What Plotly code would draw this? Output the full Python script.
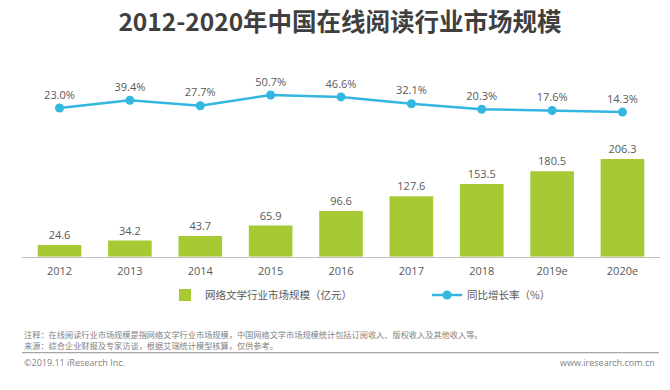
import plotly.graph_objects as go

years = ["2012", "2013", "2014", "2015", "2016", "2017", "2018", "2019e", "2020e"]
market_size = [24.6, 34.2, 43.7, 65.9, 96.6, 127.6, 153.5, 180.5, 206.3]
growth_rate = [23.0, 39.4, 27.7, 50.7, 46.6, 32.1, 20.3, 17.6, 14.3]

title_text = "2012-2020年中国在线阅读行业市场规模"
bar_name = "网络文学行业市场规模（亿元）"
line_name = "同比增长率（%）"
note1 = "注释：在线阅读行业市场规模是指网络文学行业市场规模，中国网络文学市场规模统计包括订阅收入、版权收入及其他收入等。"
note2 = "来源：综合企业财报及专家访谈，根据艾瑞统计模型核算，仅供参考。"
copyright_text = "©2019.11 iResearch Inc."
site_text = "www.iresearch.com.cn"

GREEN = "#A6C934"
BLUE = "#33B6E0"
GRAY = "#595959"
FONT = "Open Sans, Noto Sans CJK SC, sans-serif"
CJK = "Noto Sans CJK SC, sans-serif"

W, H = 670, 390
ML, MR = 22, 10
PW = W - ML - MR

def px_x(x):
    return (x - ML) / PW

def px_y(y):
    return (H - y) / H

fig = go.Figure()
fig.add_trace(go.Bar(
    x=years, y=market_size, name=bar_name,
    marker=dict(color=GREEN, line=dict(width=0)),
    texttemplate="%{y:.1f}", textposition="outside",
    textfont=dict(size=11, color=GRAY, family=FONT),
    cliponaxis=False, yaxis="y", legend="legend",
))
fig.add_trace(go.Scatter(
    x=years, y=growth_rate, name=line_name, mode="lines+markers+text",
    line=dict(color=BLUE, width=2.5),
    marker=dict(color=BLUE, size=9),
    text=[f"{v:.1f}%" for v in growth_rate], textposition="top center",
    textfont=dict(size=11, color=GRAY, family=FONT),
    cliponaxis=False, yaxis="y2", legend="legend2",
))

dom = [px_y(256.7), px_y(60)]
leg_common = dict(orientation="h", yanchor="middle", y=px_y(295),
                  font=dict(size=10.5, color=GRAY, family=CJK),
                  bgcolor="rgba(0,0,0,0)", xanchor="left")
fig.update_layout(
    width=W, height=H,
    margin=dict(l=ML, r=MR, t=0, b=0, autoexpand=False),
    paper_bgcolor="white", plot_bgcolor="white",
    font=dict(family=FONT, color=GRAY),
    bargap=0.38,
    showlegend=True,
    title=dict(text=title_text, x=px_x(340), xref="paper", xanchor="center",
               y=1 - 22 / H, yref="container", yanchor="middle",
               font=dict(size=24.5, color="#3F3F3F", family=CJK, weight="bold")),
    xaxis=dict(showgrid=False, showline=True, linecolor="#BFBFBF", linewidth=1,
               ticks="", tickfont=dict(size=11, color=GRAY, family=FONT),
               ticklabelstandoff=4, zeroline=False, fixedrange=True),
    yaxis=dict(domain=dom, range=[0, 196.7 / 0.473], visible=False,
               showgrid=False, zeroline=False),
    yaxis2=dict(domain=dom, overlaying="y", range=[23 - 148.7 / 0.47, 23 - 148.7 / 0.47 + 196.7 / 0.47],
                visible=False, showgrid=False, zeroline=False),
    legend=dict(x=px_x(165), **leg_common),
    legend2=dict(x=px_x(427), **leg_common),
)

fig.add_shape(type="line", xref="paper", yref="paper",
              x0=px_x(22), x1=px_x(659), y0=px_y(352.7), y1=px_y(352.7),
              line=dict(color="#A6A6A6", width=1.2))

ann_font = dict(size=8.2, color="#7F7F7F", family=CJK)
fig.add_annotation(text=note1 + "<br>" + note2, xref="paper", yref="paper", x=px_x(22), y=px_y(339.2),
                   xanchor="left", yanchor="middle", align="left", showarrow=False, font=ann_font)
fig.add_annotation(text=copyright_text, xref="paper", yref="paper", x=px_x(22), y=px_y(362),
                   xanchor="left", yanchor="middle", showarrow=False,
                   font=dict(size=9, color="#7F7F7F", family=FONT))
fig.add_annotation(text=site_text, xref="paper", yref="paper", x=px_x(657), y=px_y(362),
                   xanchor="right", yanchor="middle", showarrow=False,
                   font=dict(size=9, color="#7F7F7F", family=FONT))

fig.write_html("out.html", config={"displayModeBar": False},
               post_script="document.body.style.margin='0';document.body.style.padding='0';")
